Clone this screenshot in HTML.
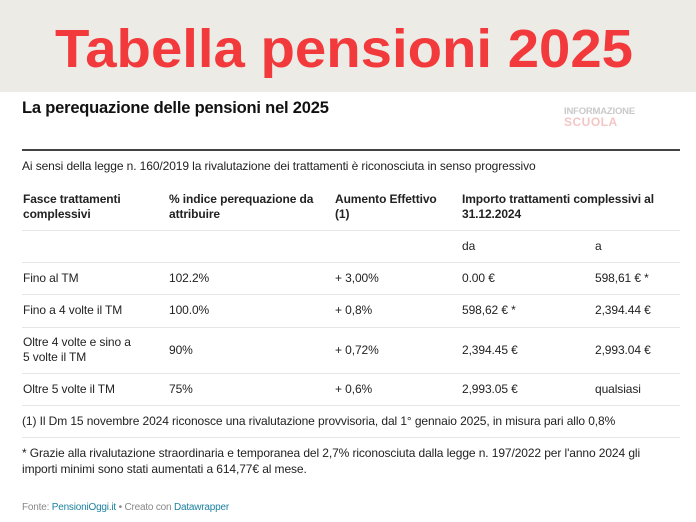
<!DOCTYPE html>
<html><head><meta charset="utf-8"><style>
body{margin:0;width:696px;height:522px;background:#fff;font-family:"Liberation Sans",sans-serif;color:#222;position:relative;overflow:hidden}
.t{position:absolute;font-size:12px;letter-spacing:-0.1px;white-space:nowrap;line-height:15px}
.b{font-weight:bold}
.ln{position:absolute;left:22px;width:658px;height:1px;background:#e6e6e6}
</style></head><body>
<div style="position:absolute;left:0;top:0;width:696px;height:92px;background:#ecebe6"></div>
<svg style="position:absolute;left:0;top:0" width="696" height="92"><text x="55" y="67" textLength="578" lengthAdjust="spacingAndGlyphs" font-family="Liberation Sans" font-weight="bold" font-size="54" fill="#f2393b">Tabella pensioni 2025</text></svg>
<div class="t b" style="left:22px;top:98px;font-size:16.5px;line-height:20px;letter-spacing:-0.2px;color:#111">La perequazione delle pensioni nel 2025</div>
<div class="t b" style="left:564px;top:107px;font-size:9.5px;line-height:10px;color:#c9c9c9;letter-spacing:-0.2px">INFORMAZIONE</div>
<div class="t b" style="left:564px;top:116px;font-size:12px;line-height:12px;color:#f3c6c6;letter-spacing:0.5px">SCUOLA</div>
<div style="position:absolute;left:22px;top:149px;width:658px;height:2px;background:#444"></div>
<div class="t" style="left:22px;top:159px">Ai sensi della legge n. 160/2019 la rivalutazione dei trattamenti è riconosciuta in senso progressivo</div>
<div class="t b" style="left:23px;top:192px">Fasce trattamenti<br>complessivi</div>
<div class="t b" style="left:169px;top:192px">% indice perequazione da<br>attribuire</div>
<div class="t b" style="left:335px;top:192px">Aumento Effettivo<br>(1)</div>
<div class="t b" style="left:462px;top:192px">Importo trattamenti complessivi al<br>31.12.2024</div>
<div class="ln" style="top:230px"></div>
<div class="t" style="left:462px;top:239px">da</div><div class="t" style="left:595px;top:239px">a</div>
<div class="ln" style="top:262px"></div>
<div class="t" style="left:23px;top:271px">Fino al TM</div><div class="t" style="left:169px;top:271px">102.2%</div><div class="t" style="left:335px;top:271px">+ 3,00%</div><div class="t" style="left:462px;top:271px">0.00 €</div><div class="t" style="left:595px;top:271px">598,61 € *</div>
<div class="ln" style="top:294px"></div>
<div class="t" style="left:23px;top:303px">Fino a 4 volte il TM</div><div class="t" style="left:169px;top:303px">100.0%</div><div class="t" style="left:335px;top:303px">+ 0,8%</div><div class="t" style="left:462px;top:303px">598,62 € *</div><div class="t" style="left:595px;top:303px">2,394.44 €</div>
<div class="ln" style="top:327px"></div>
<div class="t" style="left:23px;top:335px">Oltre 4 volte e sino a<br>5 volte il TM</div><div class="t" style="left:169px;top:343px">90%</div><div class="t" style="left:335px;top:343px">+ 0,72%</div><div class="t" style="left:462px;top:343px">2,394.45 €</div><div class="t" style="left:595px;top:343px">2,993.04 €</div>
<div class="ln" style="top:373px"></div>
<div class="t" style="left:23px;top:382px">Oltre 5 volte il TM</div><div class="t" style="left:169px;top:382px">75%</div><div class="t" style="left:335px;top:382px">+ 0,6%</div><div class="t" style="left:462px;top:382px">2,993.05 €</div><div class="t" style="left:595px;top:382px">qualsiasi</div>
<div class="ln" style="top:405px"></div>
<div class="t" style="left:22px;top:414px">(1) Il Dm 15 novembre 2024 riconosce una rivalutazione provvisoria, dal 1° gennaio 2025, in misura pari allo 0,8%</div>
<div class="ln" style="top:437px"></div>
<div class="t" style="left:22px;top:445px;line-height:16px">* Grazie alla rivalutazione straordinaria e temporanea del 2,7% riconosciuta dalla legge n. 197/2022 per l'anno 2024 gli<br>importi minimi sono stati aumentati a 614,77€ al mese.</div>
<div class="t" style="left:22px;top:500px;font-size:10px;color:#888;letter-spacing:-0.2px">Fonte: <span style="color:#1d81a2">PensioniOggi.it</span> • Creato con <span style="color:#1d81a2">Datawrapper</span></div>
</body></html>
